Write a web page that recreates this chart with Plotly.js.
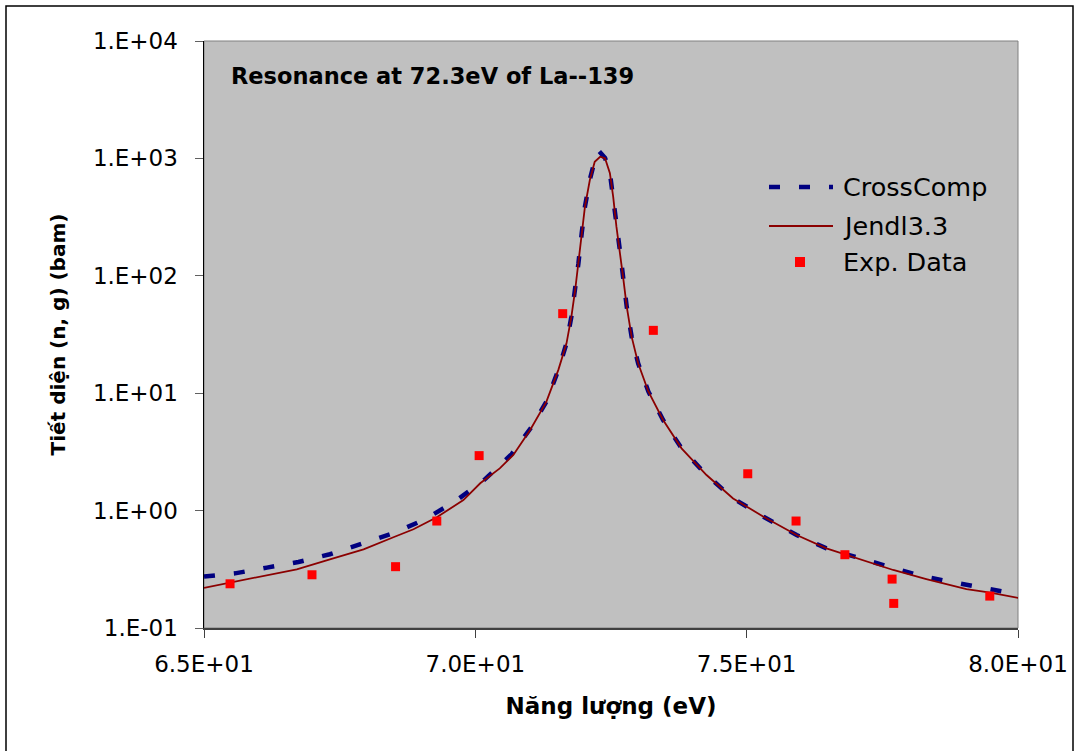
<!DOCTYPE html>
<html>
<head>
<meta charset="utf-8">
<script src="https://cdn.plot.ly/plotly-3.0.1.min.js"></script>
<style>html,body{margin:0;padding:0;background:#fff;}#chart{width:1075px;height:751px;}</style>
</head>
<body>
<div id="chart"></div>
<script>
// Energy (eV) and capture cross section (barn)
const crossCompE = [65.0, 65.57, 66.16, 66.74, 67.32, 67.87, 68.49, 69.07, 69.62, 70.16, 70.67, 71.04, 71.31, 71.53, 71.68, 71.77, 71.84, 71.90, 71.96, 72.02, 72.11, 72.20, 72.27, 72.39, 72.48, 72.54, 72.60, 72.67, 72.73, 72.79, 72.88, 73.00, 73.19, 73.46, 73.80, 74.26, 74.75, 75.31, 75.92, 76.47, 77.07, 77.64, 78.22, 78.81, 79.39, 79.96, 80.1];
const crossCompSigma = [0.274, 0.292, 0.327, 0.365, 0.425, 0.516, 0.641, 0.843, 1.19, 1.82, 3.03, 5.19, 8.47, 15.8, 26.6, 44.9, 75.7, 128, 230, 388, 660, 960, 1164, 1010, 750, 472, 262, 156, 92, 54.6, 30.3, 18.0, 10.3, 5.91, 3.39, 2.01, 1.27, 0.887, 0.620, 0.477, 0.395, 0.329, 0.277, 0.245, 0.218, 0.194, 0.19];

const jendlE = [65.0, 65.48, 66.09, 66.71, 67.32, 67.94, 68.49, 68.86, 69.29, 69.78, 70.09, 70.45, 70.70, 71.01, 71.31, 71.53, 71.68, 71.77, 71.84, 71.90, 71.96, 72.02, 72.11, 72.20, 72.30, 72.39, 72.48, 72.54, 72.60, 72.67, 72.73, 72.79, 72.88, 73.00, 73.19, 73.46, 73.80, 74.26, 74.75, 75.31, 75.92, 76.47, 77.09, 77.70, 78.31, 79.05, 79.49, 80.04, 80.12];
const jendlSigma = [0.220, 0.243, 0.274, 0.316, 0.385, 0.468, 0.593, 0.693, 0.877, 1.23, 1.71, 2.29, 2.98, 4.86, 8.47, 15.8, 26.6, 44.9, 75.7, 128, 230, 388, 655, 937, 1033, 1002, 747, 472, 262, 156, 92, 54.6, 30.3, 18.0, 10.3, 5.91, 3.39, 2.01, 1.27, 0.887, 0.620, 0.477, 0.385, 0.312, 0.261, 0.214, 0.200, 0.179, 0.176];

const expE = [65.48, 66.99, 68.53, 69.29, 70.07, 71.61, 73.28, 75.02, 75.91, 76.81, 77.68, 77.71, 79.48];
const expSigma = [0.238, 0.284, 0.333, 0.815, 2.94, 47.6, 34.3, 2.06, 0.815, 0.421, 0.261, 0.162, 0.187];

const xTickVals = [65, 70, 75, 80];
const xTickText = ['6.5E+01', '7.0E+01', '7.5E+01', '8.0E+01'];
const yTickVals = [0.1, 1, 10, 100, 1000, 10000];
const yTickText = ['1.E-01', '1.E+00', '1.E+01', '1.E+02', '1.E+03', '1.E+04'];

const seriesNames = ['CrossComp', 'Jendl3.3', 'Exp. Data'];
const chartTitle = 'Resonance at 72.3eV of La--139';
const xTitle = 'Năng lượng (eV)';
const yTitle = 'Tiết diện (n, g) (bam)';

const cc = {color: '#000080', width: 4.5, dash: '11px,19px'};
const jd = {color: '#8B0000', width: 1.8};
const ex = {color: '#FF0000', symbol: 'square', size: 9};

const traces = [
  {x: crossCompE, y: crossCompSigma, name: seriesNames[0], type: 'scatter', mode: 'lines', line: cc},
  {x: jendlE, y: jendlSigma, name: seriesNames[1], type: 'scatter', mode: 'lines', line: jd},
  {x: expE, y: expSigma, name: seriesNames[2], type: 'scatter', mode: 'markers', marker: ex}
];

const L = 204, R = 1018, T = 41, B = 628;
const W = R - L, H = B - T;
const px = v => (v - L) / W;
const py = v => (B - v) / H;

// legend drawn as shapes + text so the symbol lengths match
const legRows = [187, 226, 262];
const legSymX0 = 769, legSymX1 = 833, legTextX = 841;
const legendShapes = [
  {type: 'line', xref: 'paper', yref: 'paper', x0: px(legSymX0), x1: px(legSymX1), y0: py(legRows[0]), y1: py(legRows[0]),
   line: {color: cc.color, width: cc.width, dash: cc.dash}},
  {type: 'line', xref: 'paper', yref: 'paper', x0: px(legSymX0), x1: px(legSymX1), y0: py(legRows[1]), y1: py(legRows[1]),
   line: {color: jd.color, width: jd.width}},
  {type: 'rect', xref: 'paper', yref: 'paper', x0: px(795), x1: px(805), y0: py(legRows[2] + 5), y1: py(legRows[2] - 5),
   fillcolor: ex.color, line: {width: 0}}
];
const legendTexts = seriesNames.map((n, i) => ({
  text: n, xref: 'paper', yref: 'paper', x: px(legTextX), y: py(legRows[i]), xanchor: 'left', yanchor: 'middle',
  showarrow: false, font: {size: 25.5, family: 'DejaVu Sans, sans-serif', color: '#000'}
}));

const layout = {
  width: 1075, height: 751,
  margin: {l: L, r: 1075 - R, t: T, b: 751 - B},
  paper_bgcolor: '#ffffff',
  plot_bgcolor: '#C0C0C0',
  font: {family: 'DejaVu Sans, Liberation Sans, Arial, sans-serif', color: '#000'},
  showlegend: false,
  xaxis: {type: 'linear', range: [65, 80], tickvals: xTickVals, ticktext: xTickText,
          ticks: 'outside', ticklen: 8, tickwidth: 1, tickcolor: '#404040',
          showline: true, linecolor: '#404040', linewidth: 2, showgrid: false, zeroline: false,
          tickfont: {size: 23}, ticklabelstandoff: 6,
          title: {text: xTitle, font: {size: 23, family: 'DejaVu Sans, sans-serif', weight: 'bold'}, standoff: 22}},
  yaxis: {type: 'log', range: [-1, 4], tickvals: yTickVals, ticktext: yTickText,
          ticks: 'outside', ticklen: 8, tickwidth: 1, tickcolor: '#606060',
          showline: true, linecolor: '#000000', linewidth: 1.5, showgrid: false, zeroline: false,
          tickfont: {size: 23}, ticklabelstandoff: 12,
          title: {text: yTitle, font: {size: 20, family: 'DejaVu Sans, sans-serif', weight: 'bold'}, standoff: 22}},
  annotations: [{text: '<b>' + chartTitle + '</b>', xref: 'paper', yref: 'paper', x: px(229), y: py(76),
                 xanchor: 'left', yanchor: 'middle', showarrow: false,
                 font: {size: 22.5, family: 'DejaVu Sans, sans-serif', color: '#000'}}].concat(legendTexts),
  shapes: [
    {type: 'rect', xref: 'paper', yref: 'paper', x0: 0, x1: 1, y0: 0, y1: 1, line: {color: '#808080', width: 1}, layer: 'below'},
    {type: 'rect', xref: 'paper', yref: 'paper', x0: px(6), x1: px(1073), y0: py(753), y1: py(6), line: {color: '#000', width: 1.5}}
  ].concat(legendShapes)
};

Plotly.newPlot('chart', traces, layout, {displayModeBar: false, staticPlot: true});
</script>
</body>
</html>
